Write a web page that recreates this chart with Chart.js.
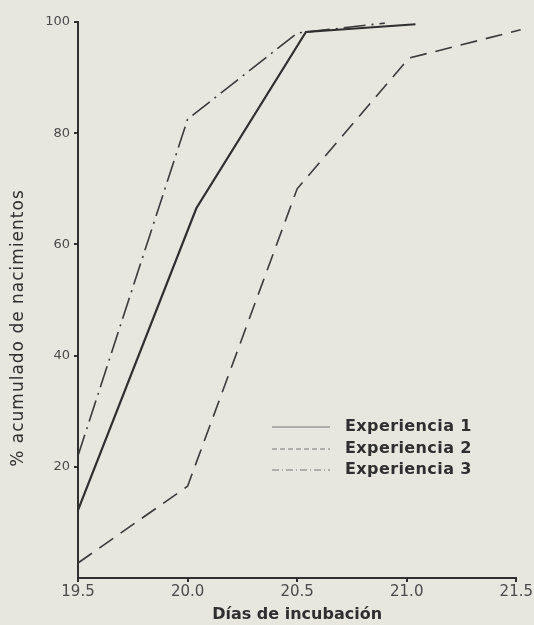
<!DOCTYPE html>
<html lang="es">
<head>
    <meta charset="UTF-8">
    <title>Nacimientos acumulados</title>
    <style>
        html, body {
            margin: 0;
            padding: 0;
            background-color: #e7e6df;
        }
        #wrap {
            width: 534px;
            height: 625px;
        }
    </style>
    <script src="https://cdn.jsdelivr.net/npm/chart.js"></script>
</head>
<body>
    <div id="wrap"><canvas id="grafico" width="534" height="625"></canvas></div>

    <script>
        // datos
        const exp1Dias = [19.5, 20.04, 20.54, 21.04];
        const exp1Valores = [12.2, 66.5, 98.2, 99.6];

        const exp2Dias = [19.5, 20.0, 20.5, 21.01, 21.52];
        const exp2Valores = [2.7, 16.5, 70, 93.5, 98.6];

        const exp3Dias = [19.5, 20.0, 20.5, 20.9];
        const exp3Valores = [22, 82.5, 98, 99.8];

        const etiquetas = ['Experiencia 1', 'Experiencia 2', 'Experiencia 3'];
        const ticksX = [19.5, 20.0, 20.5, 21.0, 21.5];
        const ticksY = [20, 40, 60, 80, 100];
        const tituloY = '% acumulado de nacimientos';

        const tinta = '#2f2f2f';

        function puntos(xs, ys) {
            return xs.map((x, i) => ({ x: x, y: ys[i] }));
        }

        // leyenda y titulo vertical dibujados a mano, como en el original
        const extras = {
            id: 'extras',
            afterDraw(chart) {
                const ctx = chart.ctx;
                const filas = [427, 449, 470];
                ctx.save();
                chart.data.datasets.forEach((ds, i) => {
                    const y = filas[i];
                    ctx.strokeStyle = '#777';
                    ctx.lineWidth = 1;
                    ctx.setLineDash(ds.legendDash);
                    ctx.beginPath();
                    ctx.moveTo(272, y);
                    ctx.lineTo(330, y);
                    ctx.stroke();
                    ctx.setLineDash([]);
                    ctx.fillStyle = tinta;
                    ctx.font = '600 16px "DejaVu Sans", sans-serif';
                    ctx.letterSpacing = '0.4px';
                    ctx.textBaseline = 'middle';
                    ctx.fillText(ds.label, 345, y);
                });

                ctx.translate(19, 328);
                ctx.rotate(-Math.PI / 2);
                ctx.font = '17px "DejaVu Sans", sans-serif';
                ctx.letterSpacing = '1px';
                ctx.textAlign = 'center';
                ctx.textBaseline = 'middle';
                ctx.fillStyle = tinta;
                ctx.fillText(tituloY, 0, 0);
                ctx.restore();
            }
        };

        const ctx = document.getElementById('grafico').getContext('2d');
        new Chart(ctx, {
            type: 'line',
            data: {
                datasets: [{
                    label: etiquetas[0],
                    data: puntos(exp1Dias, exp1Valores),
                    borderColor: tinta,
                    borderWidth: 2.2,
                    legendDash: []
                }, {
                    label: etiquetas[1],
                    data: puntos(exp2Dias, exp2Valores),
                    borderColor: '#3a3a3a',
                    borderWidth: 1.6,
                    borderDash: [17, 9],
                    legendDash: [5, 3]
                }, {
                    label: etiquetas[2],
                    data: puntos(exp3Dias, exp3Valores),
                    borderColor: '#3a3a3a',
                    borderWidth: 1.6,
                    borderDash: [22, 6, 2, 6],
                    legendDash: [7, 3, 1, 3]
                }]
            },
            options: {
                responsive: false,
                animation: false,
                clip: false,
                elements: {
                    point: { radius: 0 },
                    line: { tension: 0 }
                },
                layout: {
                    padding: { top: 22, right: 16, left: 0, bottom: 0 }
                },
                plugins: {
                    legend: { display: false },
                    tooltip: { enabled: false }
                },
                scales: {
                    x: {
                        type: 'linear',
                        min: 19.5,
                        max: 21.5,
                        afterBuildTicks(scale) {
                            scale.ticks = ticksX.map(v => ({ value: v }));
                        },
                        afterFit(scale) {
                            scale.height = 47;
                        },
                        border: { color: tinta, width: 2 },
                        grid: {
                            drawOnChartArea: false,
                            color: tinta,
                            tickLength: 4,
                            lineWidth: 2
                        },
                        ticks: {
                            color: '#4a4a4a',
                            padding: 1,
                            maxRotation: 0,
                            font: { family: '"DejaVu Sans", sans-serif', size: 15 },
                            callback: v => v.toFixed(1)
                        },
                        title: {
                            display: true,
                            text: 'Días de incubación',
                            color: tinta,
                            padding: { top: 0, bottom: 1 },
                            font: { family: '"DejaVu Sans", sans-serif', size: 16, weight: '600' }
                        }
                    },
                    y: {
                        min: 0,
                        max: 100,
                        afterBuildTicks(scale) {
                            scale.ticks = ticksY.map(v => ({ value: v }));
                        },
                        afterFit(scale) {
                            scale.width = 78;
                        },
                        border: { color: tinta, width: 2 },
                        grid: {
                            drawOnChartArea: false,
                            color: tinta,
                            tickLength: 4,
                            lineWidth: 2
                        },
                        ticks: {
                            color: '#4a4a4a',
                            padding: 4,
                            font: { family: '"DejaVu Sans", sans-serif', size: 13 }
                        }
                    }
                }
            },
            plugins: [extras]
        });
    </script>
</body>
</html>
